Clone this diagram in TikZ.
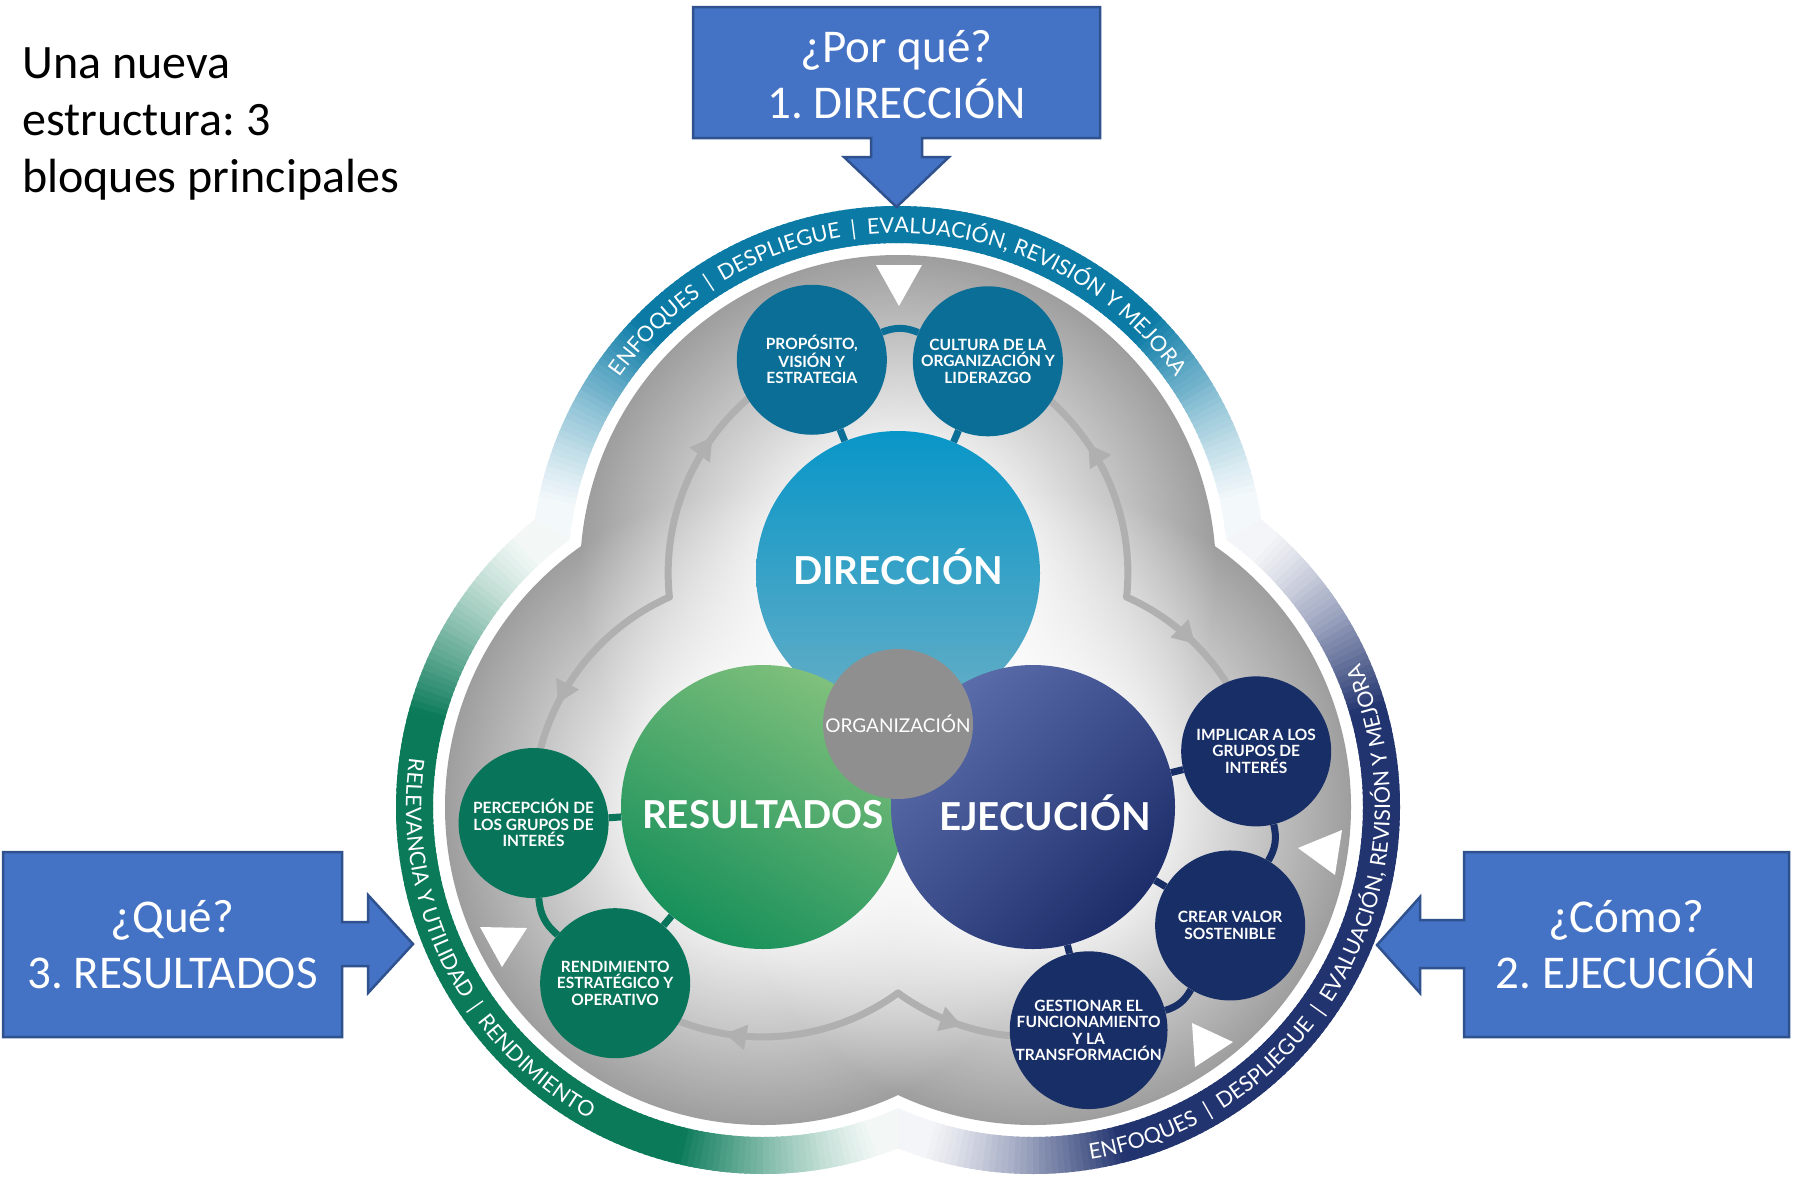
\documentclass[tikz,border=0pt]{standalone}
\usepackage{fontspec}
\setmainfont{Carlito}
\newfontfamily\latofont{Lato}
\usetikzlibrary{arrows.meta,decorations.text,decorations.markings,fadings,calc}
\frenchspacing

\definecolor{bandT}{HTML}{0B7BA6}
\definecolor{bandL}{HTML}{0A7A58}
\definecolor{bandR}{HTML}{22346F}
\definecolor{smT}{HTML}{0B6E97}
\definecolor{smL}{HTML}{08745A}
\definecolor{smR}{HTML}{182E66}
\definecolor{orgG}{HTML}{8F8F8F}
\definecolor{callF}{HTML}{4472C4}
\definecolor{callD}{HTML}{2F528F}
\definecolor{arrG}{HTML}{B0B0B0}
\definecolor{lobeBase}{HTML}{9E9E9E}
\definecolor{dirTop}{HTML}{0896C8}
\definecolor{dirBot}{HTML}{66AEC6}
\definecolor{resLight}{HTML}{7FC07C}
\definecolor{resDark}{HTML}{17905A}
\definecolor{ejeLight}{HTML}{5B6EAB}
\definecolor{ejeDark}{HTML}{1C2D6A}
\definecolor{triLeft}{HTML}{6CB2A4}
\definecolor{triRight}{HTML}{5681BD}

\pgfdeclareradialshading{lobefs}{\pgfpointorigin}{color(0bp)=(white); color(9bp)=(white); color(25bp)=(black); color(50bp)=(black)}
\pgfdeclarefading{lobefade}{\pgfuseshading{lobefs}}

\newcommand\bandtxtfont{\latofont\fontsize{21.5}{24}\selectfont}
\newcommand\smallcfont{\latofont\bfseries\fontsize{15.5}{16.5}\selectfont}
\newcommand\bigcfont{\latofont\bfseries\fontsize{38.5}{40}\selectfont}
\newcommand\orgfont{\latofont\fontsize{19}{20}\selectfont}
\newcommand\calltxtfont{\fontsize{47}{56}\selectfont}
\newcommand\titlefont{\fontsize{48}{57}\selectfont}

\begin{document}
\begin{tikzpicture}[x=1pt,y=1pt,
  smallc/.style={circle, minimum size=150pt, inner sep=0pt, align=center, text=white, font=\smallcfont},
  bigc/.style={circle, minimum size=284pt, inner sep=0pt},
  bigtxt/.style={text=white, font=\bigcfont, inner sep=0pt},
  conn/.style={line width=7pt},
  garc/.style={color=arrG, line width=7pt, line cap=round},
  gtip/.style={postaction={decorate, decoration={markings, mark=at position #1 with {\arrow{Triangle[width=24pt,length=22pt]}}}}},
  callout/.style={fill=callF, draw=callD, line width=2.5pt, line join=miter},
  calltext/.style={text=white, font=\calltxtfont, anchor=base, inner sep=0pt},
  wtri/.style={fill=white},
]
\useasboundingbox (0,-1178) rectangle (1798,0);
\fill[white] (0,-1178) rectangle (1798,0);

\coordinate (T) at (898,-573);
\coordinate (L) at (763,-807);
\coordinate (R) at (1033,-807);
\coordinate (G) at (898,-729);
\coordinate (K1) at (669.4,-597);
\coordinate (K2) at (1126.6,-597);
\coordinate (K3) at (898,-993);

% ---- outer bands with fading ends
\begin{scope}
\clip (G) -- ([shift={(30:900pt)}]G) -- ([shift={(90:900pt)}]G) -- ([shift={(150:900pt)}]G) -- cycle;
\foreach \a in {5,...,173} {
  \pgfmathsetmacro\tpar{(\a-8.3)/163.4}
  \pgfmathsetmacro\ramp{max(0.001,min(1,min(\tpar,1-\tpar)/0.22))}
  \pgfmathtruncatemacro\pcol{max(5,100*\ramp^1.3)}
  \fill[bandT!\pcol!white] ([shift={(\a:367pt)}]T) arc[start angle=\a, end angle=\a+1.6, radius=367pt] -- ([shift={(\a+1.6:330pt)}]T) arc[start angle=\a+1.6, end angle=\a, radius=330pt] -- cycle;
}
\end{scope}
\begin{scope}
\clip (G) -- ([shift={(150:900pt)}]G) -- ([shift={(210:900pt)}]G) -- ([shift={(270:900pt)}]G) -- cycle;
\foreach \a in {125,...,293} {
  \pgfmathsetmacro\tpar{(\a-128.3)/163.4}
  \pgfmathsetmacro\ramp{max(0.001,min(1,min(\tpar,1-\tpar)/0.22))}
  \pgfmathtruncatemacro\pcol{max(5,100*\ramp^1.3)}
  \fill[bandL!\pcol!white] ([shift={(\a:367pt)}]L) arc[start angle=\a, end angle=\a+1.6, radius=367pt] -- ([shift={(\a+1.6:330pt)}]L) arc[start angle=\a+1.6, end angle=\a, radius=330pt] -- cycle;
}
\end{scope}
\begin{scope}
\clip (G) -- ([shift={(270:900pt)}]G) -- ([shift={(330:900pt)}]G) -- ([shift={(390:900pt)}]G) -- cycle;
\foreach \a in {245,...,413} {
  \pgfmathsetmacro\tpar{(\a-248.3)/163.4}
  \pgfmathsetmacro\ramp{max(0.001,min(1,min(\tpar,1-\tpar)/0.22))}
  \pgfmathtruncatemacro\pcol{max(5,100*\ramp^1.3)}
  \fill[bandR!\pcol!white] ([shift={(\a:367pt)}]R) arc[start angle=\a, end angle=\a+1.6, radius=367pt] -- ([shift={(\a+1.6:330pt)}]R) arc[start angle=\a+1.6, end angle=\a, radius=330pt] -- cycle;
}
\end{scope}

% ---- grey lobes
\fill[lobeBase] (T) circle[radius=318pt] (L) circle[radius=318pt] (R) circle[radius=318pt];
\foreach \c in {T,L,R} \fill[white, path fading=lobefade, fill opacity=0.92] (\c) circle[radius=318pt];

% ---- grey cycle arrows
\draw[garc, gtip=0.57] (K1) arc[start angle=186, end angle=112, radius=230pt];
\draw[garc, gtip=0.55] (K2) arc[start angle=-6, end angle=67, radius=230pt];
\draw[garc, gtip=0.56] (K1) arc[start angle=114, end angle=184, radius=230pt];
\draw[garc, gtip=0.6] (K3) arc[start angle=306, end angle=230, radius=230pt];
\draw[garc, gtip=0.4] (K2) arc[start angle=66, end angle=14, radius=230pt];
\draw[garc, gtip=0.36] (K3) arc[start angle=234, end angle=284, radius=230pt];

% ---- central trefoil
\fill[left color=triLeft, right color=triRight] (T) -- (L) -- (R) -- cycle;
\node[bigc, top color=dirTop, bottom color=dirBot] (dir) at (T) {};
\node[bigc, top color=resLight, bottom color=resDark, shading angle=-30] (res) at (L) {};
\node[bigc, top color=ejeLight, bottom color=ejeDark, shading angle=45] (eje) at (R) {};
\node[bigtxt] (dirtxt) at ([shift={(0,6)}]T) {DIRECCIÓN};
\node[bigtxt] (restxt) at ([shift={(0,-8)}]L) {RESULTADOS};
\node[bigtxt] (ejetxt) at ([shift={(12,-6)}]R) {EJECUCIÓN};
\node[circle, minimum size=150pt, inner sep=0pt, fill=orgG, text=white, font=\orgfont] (org) at (898,-724) {ORGANIZACIÓN};

% ---- small circles
\node[smallc, fill=smT] (prop) at ([shift={(112:230pt)}]T) {PROPÓSITO,\\VISIÓN Y\\ESTRATEGIA};
\node[smallc, fill=smT] (cult) at ([shift={(67:230pt)}]T) {CULTURA DE LA\\ORGANIZACIÓN Y\\LIDERAZGO};
\node[smallc, fill=smR] (impl) at ([shift={(14:230pt)}]R) {IMPLICAR A LOS\\GRUPOS DE\\INTERÉS};
\node[smallc, fill=smR] (crear) at ([shift={(-31:230pt)}]R) {CREAR VALOR\\SOSTENIBLE};
\node[smallc, fill=smR] (gest) at ([shift={(-76:230pt)}]R) {GESTIONAR EL\\FUNCIONAMIENTO\\Y LA\\TRANSFORMACIÓN};
\node[smallc, fill=smL] (perc) at ([shift={(184:230pt)}]L) {PERCEPCIÓN DE\\LOS GRUPOS DE\\INTERÉS};
\node[smallc, fill=smL] (rend) at ([shift={(230:230pt)}]L) {RENDIMIENTO\\ESTRATÉGICO Y\\OPERATIVO};

% ---- connectors
\draw[conn, smT] (prop) -- (dir);
\draw[conn, smT] (cult) -- (dir);
\draw[conn, smT] (prop) to[bend left=22] (cult);
\draw[conn, smR] (impl) -- (eje);
\draw[conn, smR] (crear) -- (eje);
\draw[conn, smR] (gest) -- (eje);
\draw[conn, smR] (impl) to[bend left=22] (crear);
\draw[conn, smR] (crear) to[bend left=22] (gest);
\draw[conn, smL] (perc) -- (res);
\draw[conn, smL] (rend) -- (res);
\draw[conn, smL] (perc) to[bend right=23] (rend);

% ---- white triangles
\fill[wtri] (876,-265) -- (922,-265) -- (899,-306) -- cycle;
\fill[wtri] (480,-927) -- (527,-928) -- (502,-967) -- cycle;
\fill[wtri] (1298,-848) -- (1342,-830) -- (1335,-875) -- cycle;
\fill[wtri] (1192,-1023) -- (1233,-1042) -- (1195,-1067) -- cycle;

% ---- band texts
\path[decorate, decoration={text along path, text align=center, text color=white,
  text={|\bandtxtfont|ENFOQUES {\hspace{5pt}\textbar\hspace{5pt}} DESPLIEGUE {\hspace{5pt}\textbar\hspace{5pt}} EVALUACIÓN, REVISIÓN Y MEJORA}}]
  ([shift={(170:340pt)}]T) arc[start angle=170, end angle=10, radius=340pt];
\path[decorate, decoration={text along path, text align=center, text color=white,
  text={|\bandtxtfont|RELEVANCIA Y UTILIDAD {\hspace{5pt}\textbar\hspace{5pt}} RENDIMIENTO}}]
  ([shift={(150:357pt)}]L) arc[start angle=150, end angle=263, radius=357pt];
\path[decorate, decoration={text along path, text align=center, text color=white,
  text={|\bandtxtfont|ENFOQUES {\hspace{5pt}\textbar\hspace{5pt}} DESPLIEGUE {\hspace{5pt}\textbar\hspace{5pt}} EVALUACIÓN, REVISIÓN Y MEJORA}}]
  ([shift={(-85:357pt)}]R) arc[start angle=-85, end angle=28, radius=357pt];

% ---- callouts
\draw[callout] (693,-7) -- (1100,-7) -- (1100,-138) -- (922,-138) -- (922,-157) -- (949,-157) -- (896.5,-207) -- (844,-157) -- (871,-157) -- (871,-138) -- (693,-138) -- cycle;
\draw[callout] (3,-852) -- (342,-852) -- (342,-922) -- (368,-922) -- (368,-895) -- (413,-944) -- (368,-993) -- (368,-966) -- (342,-966) -- (342,-1037) -- (3,-1037) -- cycle;
\draw[callout] (1789,-852) -- (1464,-852) -- (1464,-920) -- (1420,-920) -- (1420,-897) -- (1377,-945) -- (1420,-993) -- (1420,-968) -- (1464,-968) -- (1464,-1037) -- (1789,-1037) -- cycle;

\node[calltext] (q1a) at (896.5,-62) {¿Por qué?};
\node[calltext] (q1b) at (896.5,-118) {1. DIRECCIÓN};
\node[calltext] (q3a) at (172.5,-932) {¿Qué?};
\node[calltext] (q3b) at (172.5,-988) {3. RESULTADOS};
\node[calltext] (q2a) at (1626,-932) {¿Cómo?};
\node[calltext] (q2b) at (1626,-988) {2. EJECUCIÓN};

\node[anchor=north west, align=left, inner sep=0pt, font=\titlefont] (title) at (22,-47) {Una nueva\\estructura: 3\\bloques principales};
\end{tikzpicture}
\end{document}
